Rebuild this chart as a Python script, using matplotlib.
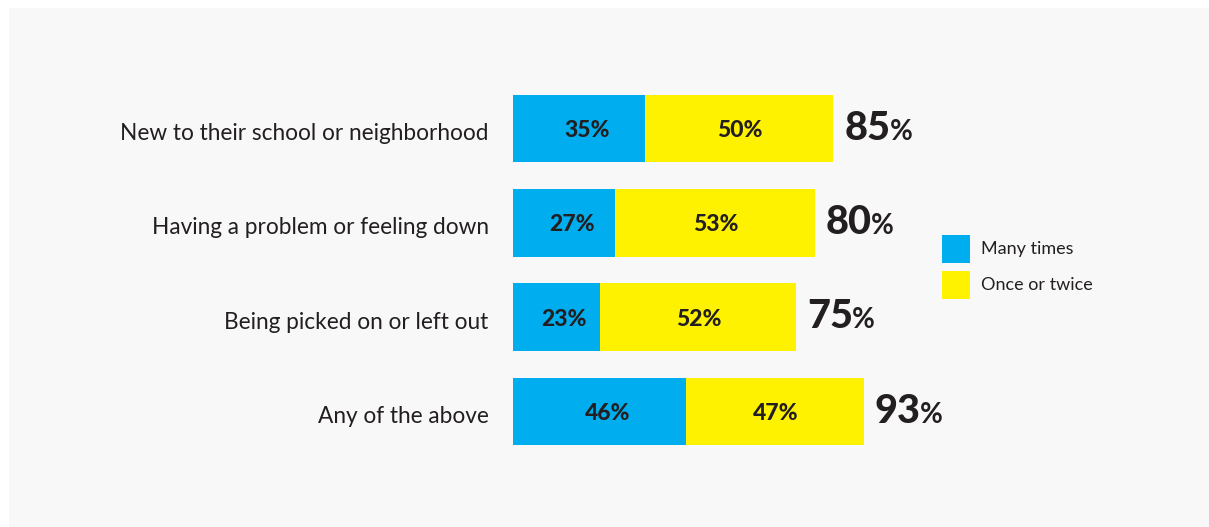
import matplotlib
matplotlib.use("Agg")
import matplotlib.pyplot as plt
from matplotlib.patches import Rectangle
from matplotlib.transforms import offset_copy, ScaledTranslation

categories = ["New to their school or neighborhood",
              "Having a problem or feeling down",
              "Being picked on or left out",
              "Any of the above"]
many_times = [35, 27, 23, 46]
once_twice = [50, 53, 52, 47]
totals = [85, 80, 75, 93]
series_names = ["Many times", "Once or twice"]

BLUE = "#00aeef"
YELLOW = "#fff200"
DARK = "#231f20"
BG = "#f8f8f8"

W, H = 1209, 527
fig = plt.figure(figsize=(W / 100, H / 100), dpi=100)
fig.patch.set_facecolor("white")
fig.patches.append(Rectangle((9 / W, 0), (W - 9) / W, (H - 8) / H,
                             transform=fig.transFigure, facecolor=BG,
                             edgecolor="none", zorder=-10))

px_per_pct = 3.77
xmax = 110
top, bottom = 81.3, 458.7
ax = fig.add_axes([513 / W, 1 - bottom / H, px_per_pct * xmax / W, (bottom - top) / H])
ax.set_facecolor("none")
ax.set_xlim(0, xmax)
ax.set_ylim(3.5, -0.5)
for s in ax.spines.values():
    s.set_visible(False)
ax.set_xticks([])
ax.set_yticks(range(len(categories)))
ax.set_yticklabels(categories, fontsize=16.3, family="Lato", color=DARK)
ax.tick_params(axis="y", length=0, pad=17.5)
for lab in ax.get_yticklabels():
    lab.set_transform(lab.get_transform() + ScaledTranslation(0, -3 / 100, fig.dpi_scale_trans))

ys = list(range(len(categories)))
h = 0.715
ax.barh(ys, many_times, height=h, color=BLUE, label=series_names[0])
ax.barh(ys, once_twice, left=many_times, height=h, color=YELLOW, label=series_names[1])

fig.canvas.draw()
renderer = fig.canvas.get_renderer()
for y, m, o, t in zip(ys, many_times, once_twice, totals):
    ax.text(m / 2 + 2.1, y, f"{m}%", ha="center", va="center_baseline", fontsize=16.5,
            family="Lato", weight="black", color=DARK)
    ax.text(m + o / 2 + 0.2, y, f"{o}%", ha="center", va="center_baseline", fontsize=16.5,
            family="Lato", weight="black", color=DARK)
    tr = offset_copy(ax.transData, fig=fig, x=8.0, y=-8.0, units="points")
    num = ax.text(m + o, y, f"{t}", ha="left", va="baseline", fontsize=28.5,
                  family="Lato", weight="black", color=DARK, transform=tr)
    bb = num.get_window_extent(renderer=renderer)
    wpt = bb.width * 72 / fig.dpi
    tr2 = offset_copy(ax.transData, fig=fig, x=8.0 + wpt - 0.5, y=-8.0, units="points")
    ax.text(m + o, y, "%", ha="left", va="baseline", fontsize=20,
            family="Lato", weight="bold", color=DARK, transform=tr2)

# legend
leg_items = [(BLUE, series_names[0], 249), (YELLOW, series_names[1], 285)]
for col, name, yc in leg_items:
    fig.patches.append(Rectangle((942 / W, 1 - (yc + 14) / H), 28 / W, 28 / H,
                                 transform=fig.transFigure, facecolor=col,
                                 edgecolor="none"))
    fig.text(981 / W, 1 - yc / H, name, ha="left", va="center", fontsize=13,
             family="Lato", color=DARK)

fig.savefig("out.png", dpi=100, facecolor=fig.get_facecolor())
